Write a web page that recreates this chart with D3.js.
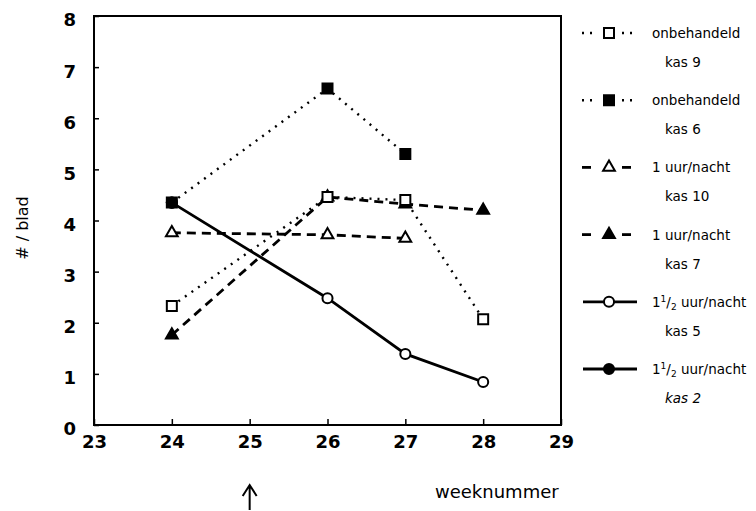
<!DOCTYPE html>
<html>
<head>
<meta charset="utf-8">
<script src="https://cdn.jsdelivr.net/npm/d3@7"></script>
<style>
body { margin: 0; background: white; }
</style>
</head>
<body>
<div id="chart"></div>
<script>
// weeks where counts were taken
var weeks = [24, 26, 27, 28];
var xTicks = [23, 24, 25, 26, 27, 28, 29];
var yTicks = [0, 1, 2, 3, 4, 5, 6, 7, 8];

// counts per leaf (# / blad), null = not measured
var kas9 = [2.33, 4.46, 4.40, 2.07];
var kas6 = [4.35, 6.58, 5.30, null];
var kas10 = [3.76, 3.72, 3.65, null];
var kas7 = [1.76, 4.46, 4.32, 4.20];
var kas5 = [4.35, 2.48, 1.39, 0.84];
var kas2 = [4.35, null, null, null];

var labelTop = ["onbehandeld", "onbehandeld", "1 uur/nacht", "1 uur/nacht", "11/2 uur/nacht", "11/2 uur/nacht"];
var labelBottom = ["kas 9", "kas 6", "kas 10", "kas 7", "kas 5", "kas 2"];

var dimensions = {
    width: 756,
    height: 511,
    margin: {
        top: 16,
        bottom: 86,
        right: 195,
        left: 94
    }
}

var svg = d3.select("#chart")
    .append("svg")
    .attr("width", dimensions.width)
    .attr("height", dimensions.height)
    .style("background-color", "white");

var xScale = d3.scaleLinear()
    .domain([23, 29])
    .range([dimensions.margin.left, dimensions.width - dimensions.margin.right]);

var yScale = d3.scaleLinear()
    .domain([0, 8])
    .range([dimensions.height - dimensions.margin.bottom, dimensions.margin.top]);

// line styles per series
var styles = [
    {data: kas9, dash: "2 6", width: 2.4, symbol: d3.symbolSquare, size: 100, fill: "white"},
    {data: kas6, dash: "2 6", width: 2.4, symbol: d3.symbolSquare, size: 100, fill: "black"},
    {data: kas10, dash: "9 6", width: 2.8, symbol: d3.symbolTriangle, size: 60, fill: "white"},
    {data: kas7, dash: "9 6", width: 2.8, symbol: d3.symbolTriangle, size: 60, fill: "black"},
    {data: kas5, dash: null, width: 2.8, symbol: d3.symbolCircle, size: 80, fill: "white"},
    {data: kas2, dash: null, width: 2.8, symbol: d3.symbolCircle, size: 80, fill: "black"}
];

var line = d3.line()
    .defined(d => d.v != null)
    .x(d => xScale(d.w))
    .y(d => yScale(d.v));

// axes with inward ticks
var xAxis = svg.append("g")
    .attr("transform", `translate(0, ${yScale(0)})`)
    .call(d3.axisBottom(xScale).tickValues(xTicks).tickFormat(d3.format("d"))
        .tickSizeInner(-6).tickSizeOuter(0).tickPadding(10));

var yAxis = svg.append("g")
    .attr("transform", `translate(${xScale(23)}, 0)`)
    .call(d3.axisLeft(yScale).tickValues(yTicks).tickFormat(d3.format("d"))
        .tickSizeInner(-5).tickSizeOuter(0).tickPadding(18));

[xAxis, yAxis].forEach(ax => {
    ax.select(".domain").remove();
    ax.selectAll("line").attr("stroke", "black").attr("stroke-width", 1.5);
    ax.selectAll("text")
        .attr("font-family", "DejaVu Sans")
        .attr("font-weight", "bold")
        .attr("font-size", 18)
        .attr("fill", "black");
});
yAxis.selectAll("text").attr("dy", "0.55em");

// frame
svg.append("rect")
    .attr("x", xScale(23))
    .attr("y", yScale(8))
    .attr("width", xScale(29) - xScale(23))
    .attr("height", yScale(0) - yScale(8))
    .attr("fill", "none")
    .attr("stroke", "black")
    .attr("stroke-width", 2);

// lines
styles.forEach(s => {
    var pts = weeks.map((w, i) => ({w: w, v: s.data[i]}));
    svg.append("path")
        .attr("d", line(pts))
        .attr("fill", "none")
        .attr("stroke", "black")
        .attr("stroke-width", s.width)
        .attr("stroke-dasharray", s.dash);
});

// markers, drawn in reverse so the squares end up on top
styles.slice().reverse().forEach(s => {
    var pts = weeks.map((w, i) => ({w: w, v: s.data[i]})).filter(d => d.v != null);
    svg.selectAll(null)
        .data(pts)
        .enter().append("path")
        .attr("d", d3.symbol().type(s.symbol).size(s.size))
        .attr("transform", d => `translate(${xScale(d.w)}, ${yScale(d.v)})`)
        .attr("fill", s.fill)
        .attr("stroke", "black")
        .attr("stroke-width", 2);
});

// y label
svg.append("text")
    .attr("transform", "translate(28, 228) rotate(-90)")
    .attr("text-anchor", "middle")
    .attr("font-family", "DejaVu Sans")
    .attr("font-size", 16)
    .text("# / blad");

// x label
svg.append("text")
    .attr("x", 435)
    .attr("y", 498)
    .attr("font-family", "DejaVu Sans")
    .attr("font-size", 18)
    .text("weeknummer");

// arrow under week 25
var ax = xScale(25);
svg.append("path")
    .attr("d", `M${ax},510 L${ax},485 M${ax - 7},496 L${ax},485 L${ax + 7},496`)
    .attr("fill", "none")
    .attr("stroke", "black")
    .attr("stroke-width", 2);

// legend
var legendTop = 33;
var legendStep = 67.2;
styles.forEach((s, i) => {
    var ly = legendTop + i * legendStep;
    var g = svg.append("g");
    if (s.dash) {
        [[582, 596], [622, 637]].forEach(seg => {
            g.append("line")
                .attr("x1", seg[0]).attr("x2", seg[1])
                .attr("y1", ly).attr("y2", ly)
                .attr("stroke", "black")
                .attr("stroke-width", s.width)
                .attr("stroke-dasharray", s.dash);
        });
    } else {
        g.append("line")
            .attr("x1", 583).attr("x2", 637)
            .attr("y1", ly).attr("y2", ly)
            .attr("stroke", "black")
            .attr("stroke-width", s.width);
    }
    g.append("path")
        .attr("d", d3.symbol().type(s.symbol).size(s.size))
        .attr("transform", `translate(609, ${ly})`)
        .attr("fill", s.fill)
        .attr("stroke", "black")
        .attr("stroke-width", 2);

    var t = g.append("text")
        .attr("x", 652)
        .attr("y", ly + 5)
        .attr("font-family", "DejaVu Sans")
        .attr("font-size", 13.5);
    if (labelTop[i].indexOf("11/2") == 0) {
        t.append("tspan").text("1");
        t.append("tspan").attr("font-size", 9).attr("dy", -5).text("1");
        t.append("tspan").attr("dy", 5).text("/");
        t.append("tspan").attr("font-size", 9).attr("dy", 3).text("2");
        t.append("tspan").attr("dy", -3).text(labelTop[i].slice(4));
    } else {
        t.text(labelTop[i]);
    }
    g.append("text")
        .attr("x", 665)
        .attr("y", ly + 34)
        .attr("font-family", "DejaVu Sans")
        .attr("font-size", 13.5)
        .attr("font-style", i == 5 ? "italic" : "normal")
        .text(labelBottom[i]);
});
</script>
</body>
</html>
